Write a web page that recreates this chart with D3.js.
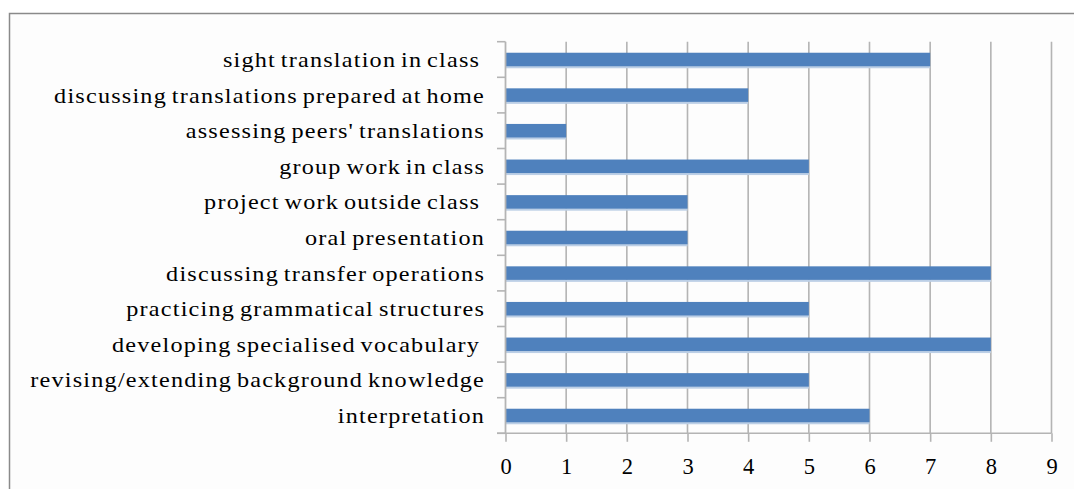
<!DOCTYPE html>
<html>
<head>
<meta charset="utf-8">
<script src="https://cdn.jsdelivr.net/npm/d3@7"></script>
<style>
  html, body { margin: 0; padding: 0; background: #ffffff; }
  svg { display: block; }
</style>
</head>
<body>
<svg id="chart" width="1074" height="489"></svg>
<script>
const categories = [
  "sight translation in class ",
  "discussing translations prepared at home",
  "assessing peers' translations",
  "group work in class",
  "project work outside class ",
  "oral presentation",
  "discussing transfer operations",
  "practicing grammatical structures",
  "developing specialised vocabulary ",
  "revising/extending background knowledge",
  "interpretation"
];
const values = [7, 4, 1, 5, 3, 3, 8, 5, 8, 5, 6];
const tickValues = [0, 1, 2, 3, 4, 5, 6, 7, 8, 9];

const svg = d3.select("#chart");
const W = 1074, H = 489;

// outer frame
svg.append("rect").attr("x", 0).attr("y", 0).attr("width", W).attr("height", H).attr("fill", "#ffffff");
svg.append("rect").attr("x", 9.5).attr("y", 13.5).attr("width", W + 20).attr("height", H + 20)
  .attr("fill", "#fdfdfd").attr("stroke", "#8a8a8a").attr("stroke-width", 1.5);

const x = d3.scaleLinear().domain([0, 9]).range([505.5, 1051.5]);
const y = d3.scaleBand().domain(categories).range([41.7, 433.3]).paddingInner(0.62).paddingOuter(0.31);

const gridColor = "#b4b4b4";
const serif = "'Liberation Serif', 'Times New Roman', serif";

// vertical gridlines
svg.append("g").selectAll("line").data(tickValues.filter(d => d > 0)).join("line")
  .attr("x1", d => x(d)).attr("x2", d => x(d))
  .attr("y1", 41.7).attr("y2", 433.3)
  .attr("stroke", gridColor).attr("stroke-width", 1.6);

// bars
const bars = svg.append("g");
bars.selectAll("rect.shadow").data(values).join("rect").attr("class", "shadow")
  .attr("x", x(0)).attr("y", (d, i) => y(categories[i]) + y.bandwidth() - 0.5)
  .attr("width", d => x(d) - x(0)).attr("height", 2.5)
  .attr("fill", "#bccfe6");
bars.selectAll("rect.bar").data(values).join("rect").attr("class", "bar")
  .attr("x", x(0)).attr("y", (d, i) => y(categories[i]))
  .attr("width", d => x(d) - x(0)).attr("height", y.bandwidth())
  .attr("fill", "#4f81bd");

// x axis
const xAxis = d3.axisBottom(x).tickValues(tickValues).tickSize(8.5).tickSizeOuter(0).tickFormat(d3.format("d"));
const gx = svg.append("g").attr("transform", "translate(0,433.3)").call(xAxis);
gx.select(".domain").attr("stroke", gridColor).attr("stroke-width", 1.6).attr("d", `M497,0H${x(9)}`);
gx.selectAll(".tick line").attr("stroke", gridColor).attr("stroke-width", 1.6);
gx.selectAll(".tick text").attr("font-family", serif)
  .attr("font-size", 22.5).attr("fill", "#000").attr("dy", 0).attr("y", 40.5);

// y axis
const gy = svg.append("g").attr("transform", `translate(${x(0)},0)`);
gy.append("line").attr("x1", 0).attr("x2", 0).attr("y1", 41.7).attr("y2", 433.3)
  .attr("stroke", gridColor).attr("stroke-width", 1.8);
const boundaries = d3.range(categories.length + 1).map(i => 41.7 + i * y.step());
gy.selectAll("line.tk").data(boundaries).join("line").attr("class", "tk")
  .attr("x1", -8.5).attr("x2", 0).attr("y1", d => d).attr("y2", d => d)
  .attr("stroke", gridColor).attr("stroke-width", 1.6);
gy.selectAll("text").data(categories).join("text")
  .attr("transform", d => `translate(-20.5,${y(d) + y.bandwidth() / 2 + 7.5}) scale(1.1,1)`)
  .attr("text-anchor", "end")
  .attr("font-family", serif)
  .attr("font-size", 22).attr("fill", "#000")
  .style("letter-spacing", "1.1px")
  .style("word-spacing", "-2.2px")
  .style("white-space", "pre")
  .text(d => d);
</script>
</body>
</html>
